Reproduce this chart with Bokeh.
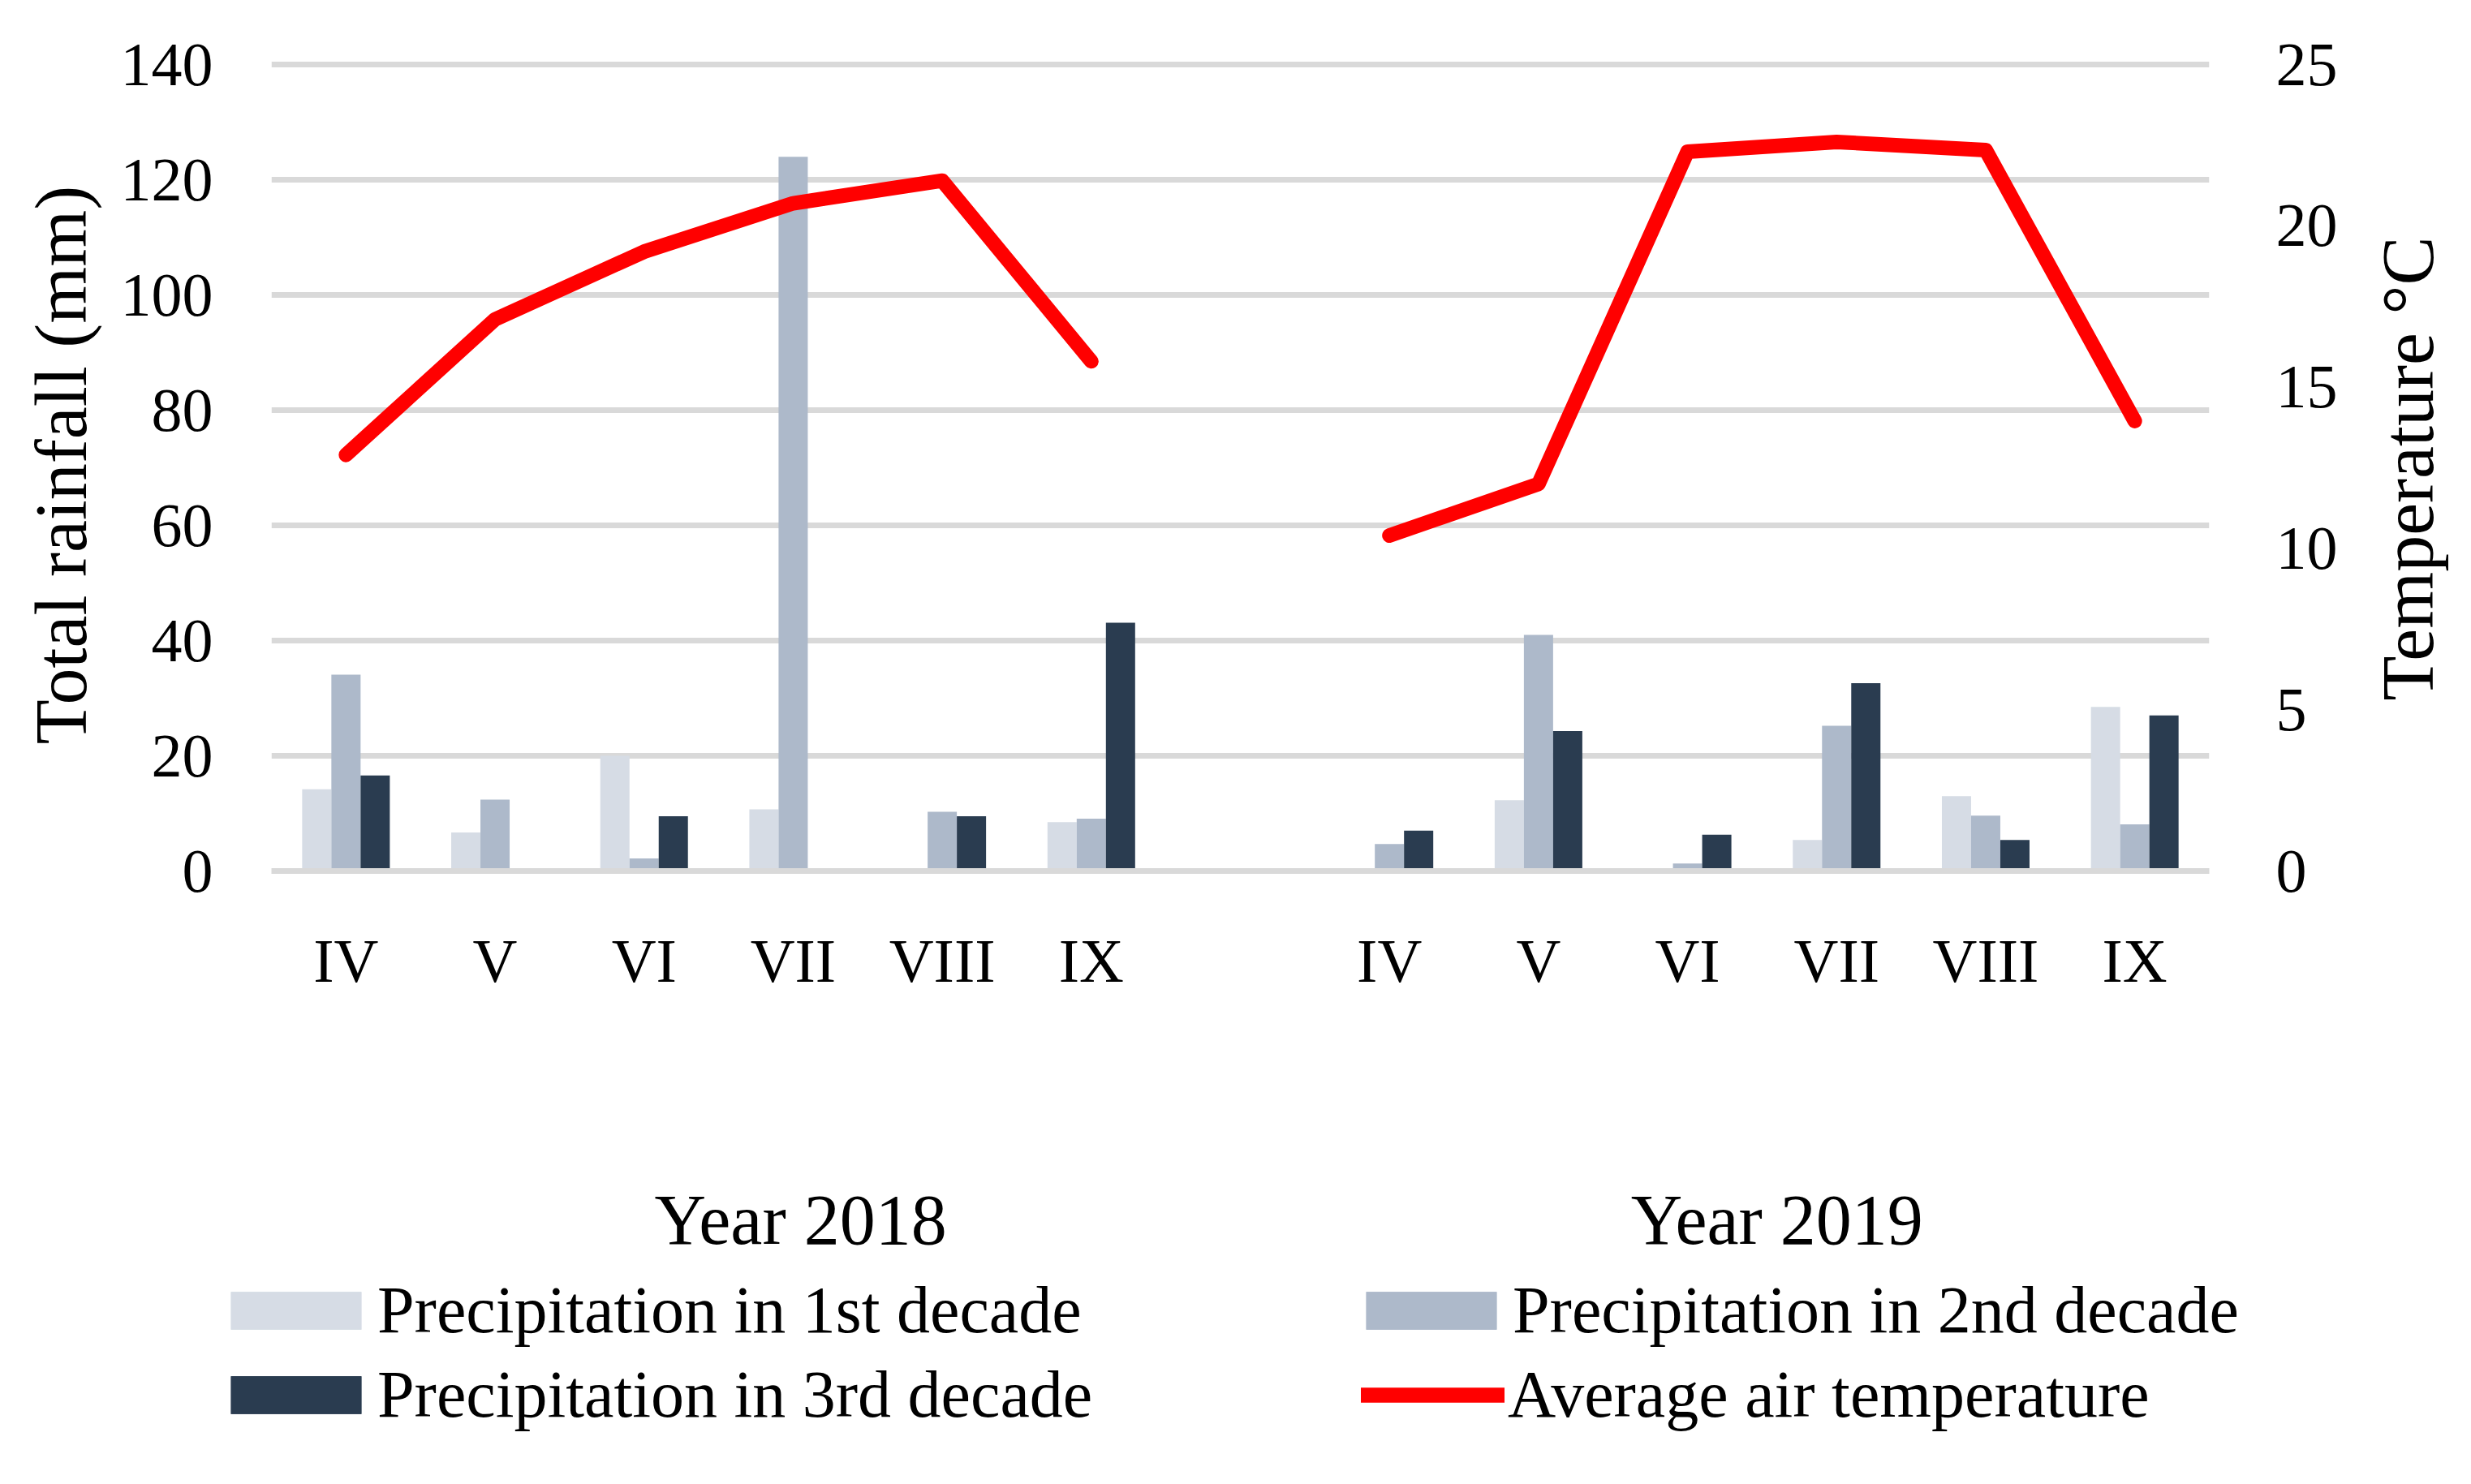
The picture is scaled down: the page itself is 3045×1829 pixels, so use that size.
import math
import numpy as np
from bokeh.plotting import figure
from bokeh.layouts import column, row
from bokeh.models import (Range1d, LinearAxis, FixedTicker, Legend, LegendItem,
                          ColumnDataSource, Label)
from bokeh.transform import dodge
from bokeh.embed import file_html
from bokeh.resources import INLINE

# ---------------- data ----------------
months = ["IV", "V", "VI", "VII", "VIII", "IX"]
years = ["Year 2018", "Year 2019"]
rain_1st_2018 = [14.2, 6.7, 20.0, 10.7, 0.0, 8.5]
rain_2nd_2018 = [34.1, 12.4, 2.2, 124.0, 10.3, 9.1]
rain_3rd_2018 = [16.6, 0.0, 9.5, 0.0, 9.5, 43.1]
rain_1st_2019 = [0.0, 12.3, 0.5, 5.4, 13.0, 28.5]
rain_2nd_2019 = [4.7, 41.0, 1.3, 25.2, 9.6, 8.1]
rain_3rd_2019 = [7.0, 24.3, 6.3, 32.6, 5.4, 27.0]
temp_2018 = [12.9, 17.1, 19.2, 20.7, 21.4, 15.8]
temp_2019 = [10.4, 12.0, 22.3, 22.6, 22.35, 13.95]
rain_ticks = [0, 20, 40, 60, 80, 100, 120, 140]
temp_ticks = [0, 5, 10, 15, 20, 25]
labels = ["Precipitation in 1st decade", "Precipitation in 2nd decade",
          "Precipitation in 3rd decade", "Average air temperature"]
y_title = "Total rainfall (mm)"
y2_title = "Temperature °C"

# ---------------- styles ----------------
C1, C2, C3, CRED = "#D6DCE5", "#ADB9CA", "#2A3C50", "#FF0000"
GRID = "#D9D9D9"
FONT = "Liberation Serif"
SLOTS = 13          # 6 months + 1 gap + 6 months
BAR_W = 0.196
RAIN_MAX, TEMP_MAX = 140.0, 25.0
PAD_TOP = 1.0        # small padding so the top gridline is not clipped
k = TEMP_MAX / RAIN_MAX

W_MAIN, W_TITLE, H1, H2 = 2900, 129, 1560, 253
W = W_MAIN + W_TITLE

p = figure(width=W_MAIN, height=H1, output_backend="svg", toolbar_location=None,
           x_range=Range1d(0, SLOTS), y_range=Range1d(0, RAIN_MAX + PAD_TOP),
           min_border_left=334, min_border_right=178,
           min_border_top=72, min_border_bottom=487)
p.frame_align = False
p.extra_y_ranges = {"temp": Range1d(0, (RAIN_MAX + PAD_TOP) * k)}
p.outline_line_color = None
p.background_fill_color = "white"
p.border_fill_color = "white"

sources = []
for g, (r1, r2, r3, t) in enumerate([(rain_1st_2018, rain_2nd_2018, rain_3rd_2018, temp_2018),
                                      (rain_1st_2019, rain_2nd_2019, rain_3rd_2019, temp_2019)]):
    x = np.arange(len(months)) + 0.5 + g * (len(months) + 1)
    sources.append(ColumnDataSource(dict(x=x, r1=r1, r2=r2, r3=r3, t=t)))


def draw(fig, src, yname=None, tname="temp"):
    kw = {} if yname is None else dict(y_range_name=yname)
    a = fig.vbar(x=dodge("x", -BAR_W, range=fig.x_range), top="r1", width=BAR_W,
                 source=src, fill_color=C1, line_color=None, **kw)
    b = fig.vbar(x=dodge("x", 0, range=fig.x_range), top="r2", width=BAR_W,
                 source=src, fill_color=C2, line_color=None, **kw)
    c = fig.vbar(x=dodge("x", BAR_W, range=fig.x_range), top="r3", width=BAR_W,
                 source=src, fill_color=C3, line_color=None, **kw)
    d = fig.line(x="x", y="t", source=src, line_color=CRED, line_width=18,
                 line_cap="round", line_join="round", y_range_name=tname)
    return a, b, c, d


for src in sources:
    draw(p, src)


def plain(ax):
    ax.axis_line_color = None
    ax.major_tick_line_color = None
    ax.minor_tick_line_color = None
    ax.major_tick_out = 0
    ax.major_tick_in = 0
    ax.major_label_text_font = FONT
    ax.major_label_text_color = "black"
    ax.axis_label_text_font = FONT
    ax.axis_label_text_color = "black"
    ax.axis_label_text_font_style = "normal"


# ---------------- axes ----------------
ya = p.yaxis[0]
plain(ya)
ya.ticker = FixedTicker(ticks=rain_ticks)
ya.axis_label = y_title
ya.axis_label_text_font_size = "90px"
ya.axis_label_standoff = 21
ya.major_label_text_font_size = "76px"
ya.major_label_standoff = 72

yr = LinearAxis(y_range_name="temp", ticker=FixedTicker(ticks=temp_ticks))
plain(yr)
yr.major_label_text_font_size = "76px"
yr.major_label_standoff = 82
p.add_layout(yr, "right")

xa = p.xaxis[0]
plain(xa)
xa.axis_line_color = GRID          # grey zero line drawn over the bar bottoms
xa.axis_line_width = 7
xticks = list(sources[0].data["x"]) + list(sources[1].data["x"])
xa.ticker = FixedTicker(ticks=[float(v) for v in xticks])
xa.major_label_overrides = {float(v): m for v, m in zip(xticks, months + months)}
xa.major_label_text_font_size = "76px"
xa.major_label_standoff = 68

year_pos = [3.55, 10.1]
xg = LinearAxis(ticker=FixedTicker(ticks=year_pos),
                major_label_overrides={v: y for v, y in zip(year_pos, years)})
plain(xg)
xg.major_label_text_font_size = "88px"
xg.major_label_standoff = 226
p.add_layout(xg, "below")

p.xgrid.grid_line_color = None
p.ygrid.ticker = FixedTicker(ticks=rain_ticks)
p.ygrid.grid_line_color = GRID
p.ygrid.grid_line_width = 7

# ---------------- right-hand title strip (reads bottom-to-top) ----------------
p3 = figure(width=W_TITLE, height=H1, output_backend="svg", toolbar_location=None,
            x_axis_type=None, y_axis_type=None, min_border=0)
p3.frame_align = False
p3.outline_line_color = None
p3.background_fill_color = "white"
p3.border_fill_color = "white"
TITLE_CX, TITLE_CY = 67, 577          # centre of the title inside the strip (px, from top)
p3.add_layout(Label(text=y2_title, x=TITLE_CX, y=H1 - TITLE_CY,
                    x_units="screen", y_units="screen", angle=math.pi / 2,
                    text_align="center", text_baseline="middle",
                    text_font=FONT, text_font_size="90px", text_color="black"))

# ---------------- legend strip below the chart ----------------
p2 = figure(width=W, height=H2, output_backend="svg", toolbar_location=None,
            x_range=Range1d(0, SLOTS), y_range=Range1d(0, 1),
            x_axis_type=None, y_axis_type=None, min_border=0)
p2.frame_align = False
p2.extra_y_ranges = {"off": Range1d(1000, 1001)}   # legend proxies stay out of view
p2.outline_line_color = None
p2.background_fill_color = "white"
p2.border_fill_color = "white"

proxies = [draw(p2, src, "off", "off") for src in sources]
r1s = [pr[0] for pr in proxies]
r2s = [pr[1] for pr in proxies]
r3s = [pr[2] for pr in proxies]
rls = [pr[3] for pr in proxies]

ITEM_H = 94
STRIP_TOP = 8 + H1                  # page y of the legend strip


def place(item, left, row_center, gw, gh, standoff):
    top = row_center - STRIP_TOP - ITEM_H / 2
    vy = H2 - top - ITEM_H
    lg = Legend(items=[item], location=(left, vy), orientation="vertical",
                glyph_width=gw, glyph_height=gh, label_height=46,
                label_standoff=standoff, spacing=0, padding=0, margin=0,
                border_line_color=None, background_fill_alpha=0,
                label_text_font=FONT, label_text_font_size="82px",
                label_text_color="black")
    p2.add_layout(lg, "center")


ROW1, ROW2 = 1623, 1727
place(LegendItem(label=labels[0], renderers=r1s), 264, ROW1, 201, 58, 0)
place(LegendItem(label=labels[2], renderers=r3s), 264, ROW2, 201, 58, 0)
place(LegendItem(label=labels[1], renderers=r2s), 1663, ROW1, 201, 58, 0)
place(LegendItem(label=labels[3], renderers=rls), 1677, ROW2, 177, 46, 4)

open("out.html", "w").write(file_html(column(row(p, p3), p2), INLINE))
